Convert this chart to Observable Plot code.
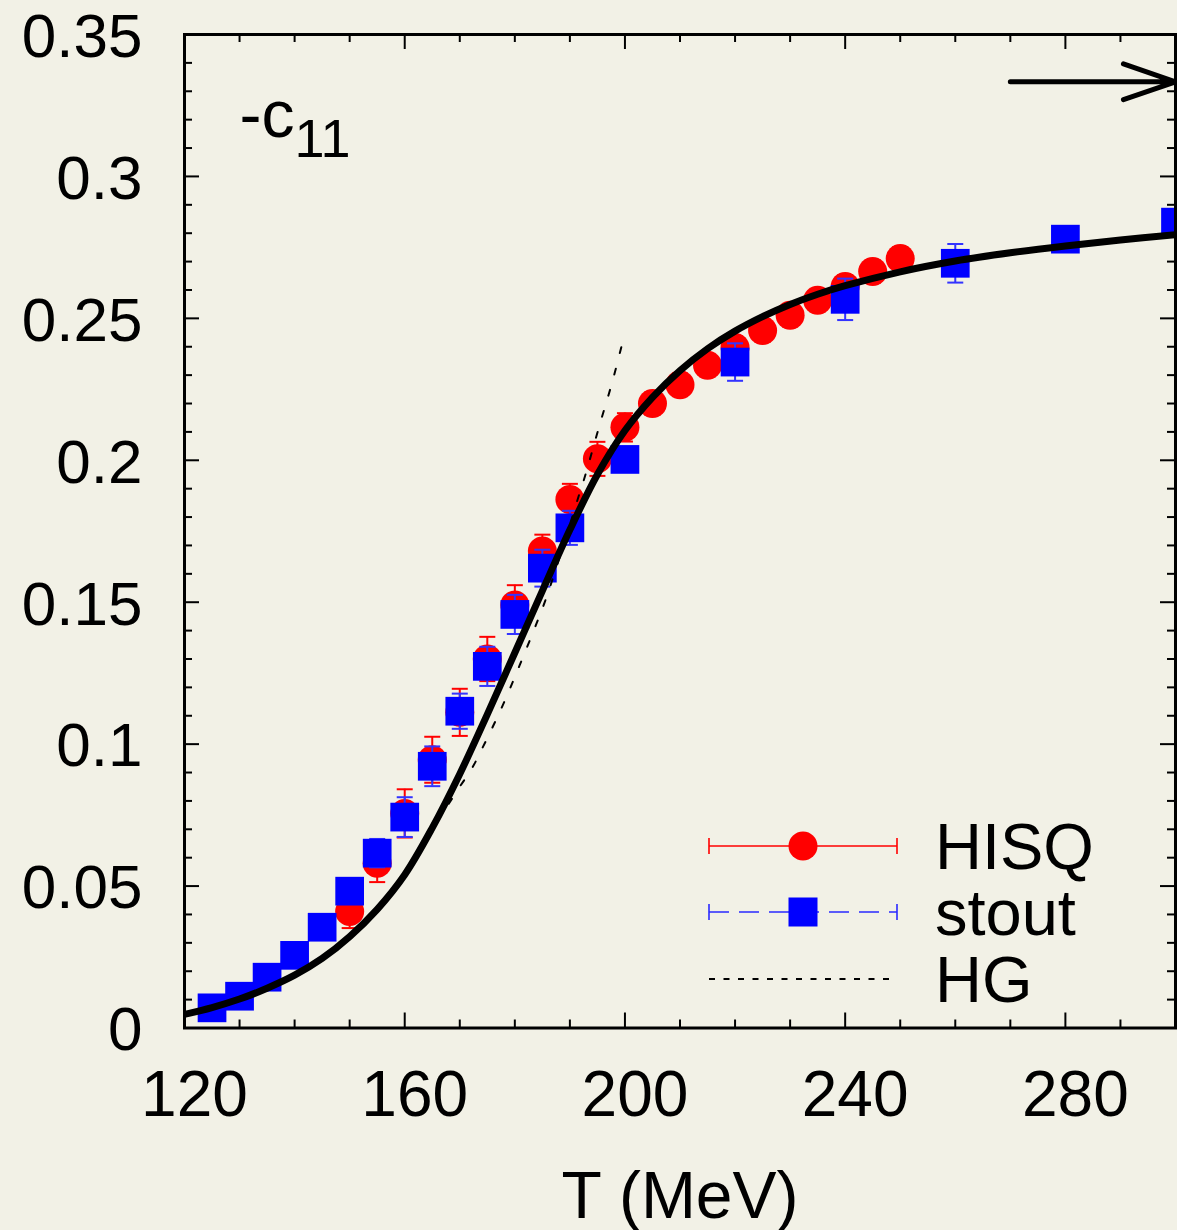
<!DOCTYPE html>
<html><head><meta charset="utf-8">
<script src="https://cdn.jsdelivr.net/npm/d3@7"></script>
<script src="https://cdn.jsdelivr.net/npm/@observablehq/plot@0.6"></script>
<style>
html,body{margin:0;padding:0;background:#f2f1e6;}
#wrap{position:relative;width:1177px;height:1230px;}
#legend{position:absolute;left:0;top:0;pointer-events:none;}
</style></head><body><div id="wrap"></div>
<script>
// ---- data ----
const hisqT = [150,155,160,165,170,175,180,185,190,195,200,205,210,215,220,225,230,235,240,245,250];
const hisqV = [0.041,0.058,0.0756,0.0945,0.1112,0.130,0.149,0.168,0.1862,0.2005,0.2116,0.220,0.2266,0.2335,0.2397,0.2457,0.2511,0.2564,0.2612,0.2665,0.2711];
const hisqErr = [0.0058,0.0066,0.0085,0.0081,0.0083,0.0078,0.007,0.0058,0.0055,0.006,0.005,0.004,0.004,0.004,0.004,0.004,0.004,0.004,0.004,0.004,0.004];

const stoutT = [125,130,135,140,145,150,155,160,165,170,175,180,185,190,200,220,240,260,280,300];
const stoutV = [0.0071,0.0112,0.0179,0.0256,0.0355,0.0482,0.0616,0.0743,0.0922,0.1116,0.1274,0.1457,0.162,0.1762,0.2003,0.2346,0.2567,0.2694,0.2779,0.2839];
const stoutErr = [0.002,0.002,0.002,0.002,0.003,0.003,0.005,0.007,0.007,0.0062,0.0069,0.0069,0.0065,0.006,0.003,0.0066,0.0073,0.0068,0.003,0.003];

const curveT = [120,125,130,135,140,145,150,155,160,165,170,175,180,185,190,195,200,205,210,215,220,225,230,235,240,250,260,270,280,290,300];
const curveV = [0.0048,0.0072,0.0102,0.0140,0.0186,0.0245,0.0322,0.0418,0.0540,0.0705,0.0895,0.1105,0.1322,0.1540,0.1755,0.1950,0.2105,0.2222,0.2316,0.2393,0.2455,0.2506,0.2549,0.2585,0.2615,0.2664,0.2702,0.2731,0.2755,0.2776,0.2795];

const hgT = [168,170,172.1,174,177.6,180.9,184,185.5,188.5,191.7,192.9,195.3,197.8,200];
const hgV = [0.079,0.085,0.0911,0.0982,0.1128,0.1279,0.1428,0.1504,0.168,0.188,0.1954,0.2118,0.2283,0.245];

const limitT = [270, 300];      // arrow towards the Stefan-Boltzmann limit
const limitV = [1/3];

const xMajor = [120,160,200,240,280];
const xMinor = [130,140,150,170,180,190,210,220,230,250,260,270,290];
const yMajor = [0,0.05,0.1,0.15,0.2,0.25,0.3,0.35];
const yMinor = [0.01,0.02,0.03,0.04,0.06,0.07,0.08,0.09,0.11,0.12,0.13,0.14,0.16,0.17,0.18,0.19,0.21,0.22,0.23,0.24,0.26,0.27,0.28,0.29,0.31,0.32,0.33,0.34];

const legendLabels = ["HISQ","stout","HG"];

// ---- tables ----
const hisq = hisqT.map((T,i)=>({T, v:hisqV[i], e:hisqErr[i]}));
const stout = stoutT.map((T,i)=>({T, v:stoutV[i], e:stoutErr[i]}));
const curve = curveT.map((T,i)=>({T, v:curveV[i]}));
const hg = hgT.map((T,i)=>({T, v:hgV[i]}));
const limit = [{T1:limitT[0], T2:limitT[1], v:limitV[0]}];

// ---- layout ----
const W = 1177, H = 1230;
const mL = 184, mR = 2, mT = 34, mB = 202.5;
const FW = W - mL - mR, FH = H - mT - mB;
const BG = "#f2f1e6";
const FONT = "'Liberation Sans', Arial, Helvetica, sans-serif";

const cap = {draw(ctx, size){ const w = Math.sqrt(size/Math.PI); ctx.moveTo(-w,0); ctx.lineTo(w,0); }};

const chart = Plot.plot({
  width: W, height: H,
  marginLeft: mL, marginRight: mR, marginTop: mT, marginBottom: mB,
  style: {background: BG, fontFamily: FONT, color: "black", overflow: "visible"},
  x: {domain: [120, 300]},
  y: {domain: [0, 0.35]},
  marks: [
    // HISQ error bars + circles
    Plot.ruleX(hisq, {x:"T", y1:d=>d.v-d.e, y2:d=>d.v+d.e, stroke:"red", strokeWidth:2}),
    Plot.dot(hisq, {x:"T", y:d=>d.v+d.e, symbol:cap, r:8, stroke:"red", strokeWidth:2, fill:"none"}),
    Plot.dot(hisq, {x:"T", y:d=>d.v-d.e, symbol:cap, r:8, stroke:"red", strokeWidth:2, fill:"none"}),
    Plot.dot(hisq, {x:"T", y:"v", r:14.5, fill:"red", stroke:"none"}),
    // stout error bars + squares
    Plot.ruleX(stout, {x:"T", y1:d=>d.v-d.e, y2:d=>d.v+d.e, stroke:"#3333ff", strokeWidth:2}),
    Plot.dot(stout, {x:"T", y:d=>d.v+d.e, symbol:cap, r:8, stroke:"#3333ff", strokeWidth:2, fill:"none"}),
    Plot.dot(stout, {x:"T", y:d=>d.v-d.e, symbol:cap, r:8, stroke:"#3333ff", strokeWidth:2, fill:"none"}),
    Plot.dot(stout, {x:"T", y:"v", symbol:"square", r:16.2, fill:"blue", stroke:"none"}),
    // HG dashed
    Plot.line(hg, {x:"T", y:"v", curve:"catmull-rom", stroke:"black", strokeWidth:2, strokeDasharray:"6,16"}),
    // solid curve
    Plot.line(curve, {x:"T", y:"v", curve:"catmull-rom", stroke:"black", strokeWidth:7, clip:"frame"}),
    // arrow
    Plot.arrow(limit, {x1:"T1", x2:"T2", y1:"v", y2:"v", stroke:"black", strokeWidth:5, headLength:30, headAngle:38}),
    // -c11 label
    Plot.text(["-c"], {frameAnchor:"top-left", text:d=>d, dx:55, dy:102.5, lineAnchor:"bottom", textAnchor:"start", fontSize:66, fill:"black"}),
    Plot.text(["11"], {frameAnchor:"top-left", text:d=>d, dx:110, dy:122, lineAnchor:"bottom", textAnchor:"start", fontSize:54, fill:"black"}),
    // axis label
    Plot.text(["T (MeV)"], {frameAnchor:"bottom", text:d=>d, dy:189.5, lineAnchor:"bottom", textAnchor:"middle", fontSize:66, fill:"black"}),
    // tick labels
    Plot.axisX(xMajor, {tickSize:0, tickPadding:43, fontSize:64, dx:10, tickFormat:d=>String(d), label:null}),
    Plot.axisY(yMajor, {tickSize:0, tickPadding:42, fontSize:62, dy:2.5, tickFormat:d=>String(d), label:null}),
    // inward ticks on all four sides
    Plot.ruleX(xMinor, {x:d=>d, insetTop:FH-8, stroke:"black", strokeWidth:2}),
    Plot.ruleX(xMinor, {x:d=>d, insetBottom:FH-8, stroke:"black", strokeWidth:2}),
    Plot.ruleX(xMajor, {x:d=>d, insetTop:FH-15, stroke:"black", strokeWidth:2}),
    Plot.ruleX(xMajor, {x:d=>d, insetBottom:FH-15, stroke:"black", strokeWidth:2}),
    Plot.ruleY(yMinor, {y:d=>d, insetRight:FW-8, stroke:"black", strokeWidth:2}),
    Plot.ruleY(yMinor, {y:d=>d, insetLeft:FW-8, stroke:"black", strokeWidth:2}),
    Plot.ruleY(yMajor, {y:d=>d, insetRight:FW-15, stroke:"black", strokeWidth:2}),
    Plot.ruleY(yMajor, {y:d=>d, insetLeft:FW-15, stroke:"black", strokeWidth:2}),
    Plot.frame({stroke:"black", strokeWidth:3})
  ]
});
const wrap = document.getElementById("wrap");
wrap.appendChild(chart);

// ---- legend overlay ----
const lg = d3.select(wrap).append("svg").attr("id","legend").attr("width",W).attr("height",H)
  .style("font-family", FONT);
const x0 = 709, x1 = 897, xm = 803, tx = 935;
const rows = [
  {y:846, base:869, color:"red", dash:null, marker:"circle"},
  {y:912, base:935, color:"#2a2aff", dash:"20,10", marker:"square"},
  {y:979, base:1001.5, color:"black", dash:"6,8.5", marker:null}
];
rows.forEach((r,i)=>{
  lg.append("line").attr("x1",x0).attr("x2",x1).attr("y1",r.y).attr("y2",r.y)
    .attr("stroke",r.color).attr("stroke-width", r.marker ? 1.6 : 2).attr("stroke-dasharray", r.dash);
  if (r.marker) {
    [x0,x1].forEach(x=>lg.append("line").attr("x1",x).attr("x2",x).attr("y1",r.y-8).attr("y2",r.y+8)
      .attr("stroke",r.color).attr("stroke-width",1.6));
  }
  if (r.marker === "circle") lg.append("circle").attr("cx",xm).attr("cy",r.y).attr("r",14.5).attr("fill","red");
  if (r.marker === "square") lg.append("rect").attr("x",xm-14.5).attr("y",r.y-14.5).attr("width",29).attr("height",29).attr("fill","blue");
  lg.append("text").attr("x",tx).attr("y",r.base).attr("font-size",65).attr("fill","black").text(legendLabels[i]);
});
</script></body></html>
